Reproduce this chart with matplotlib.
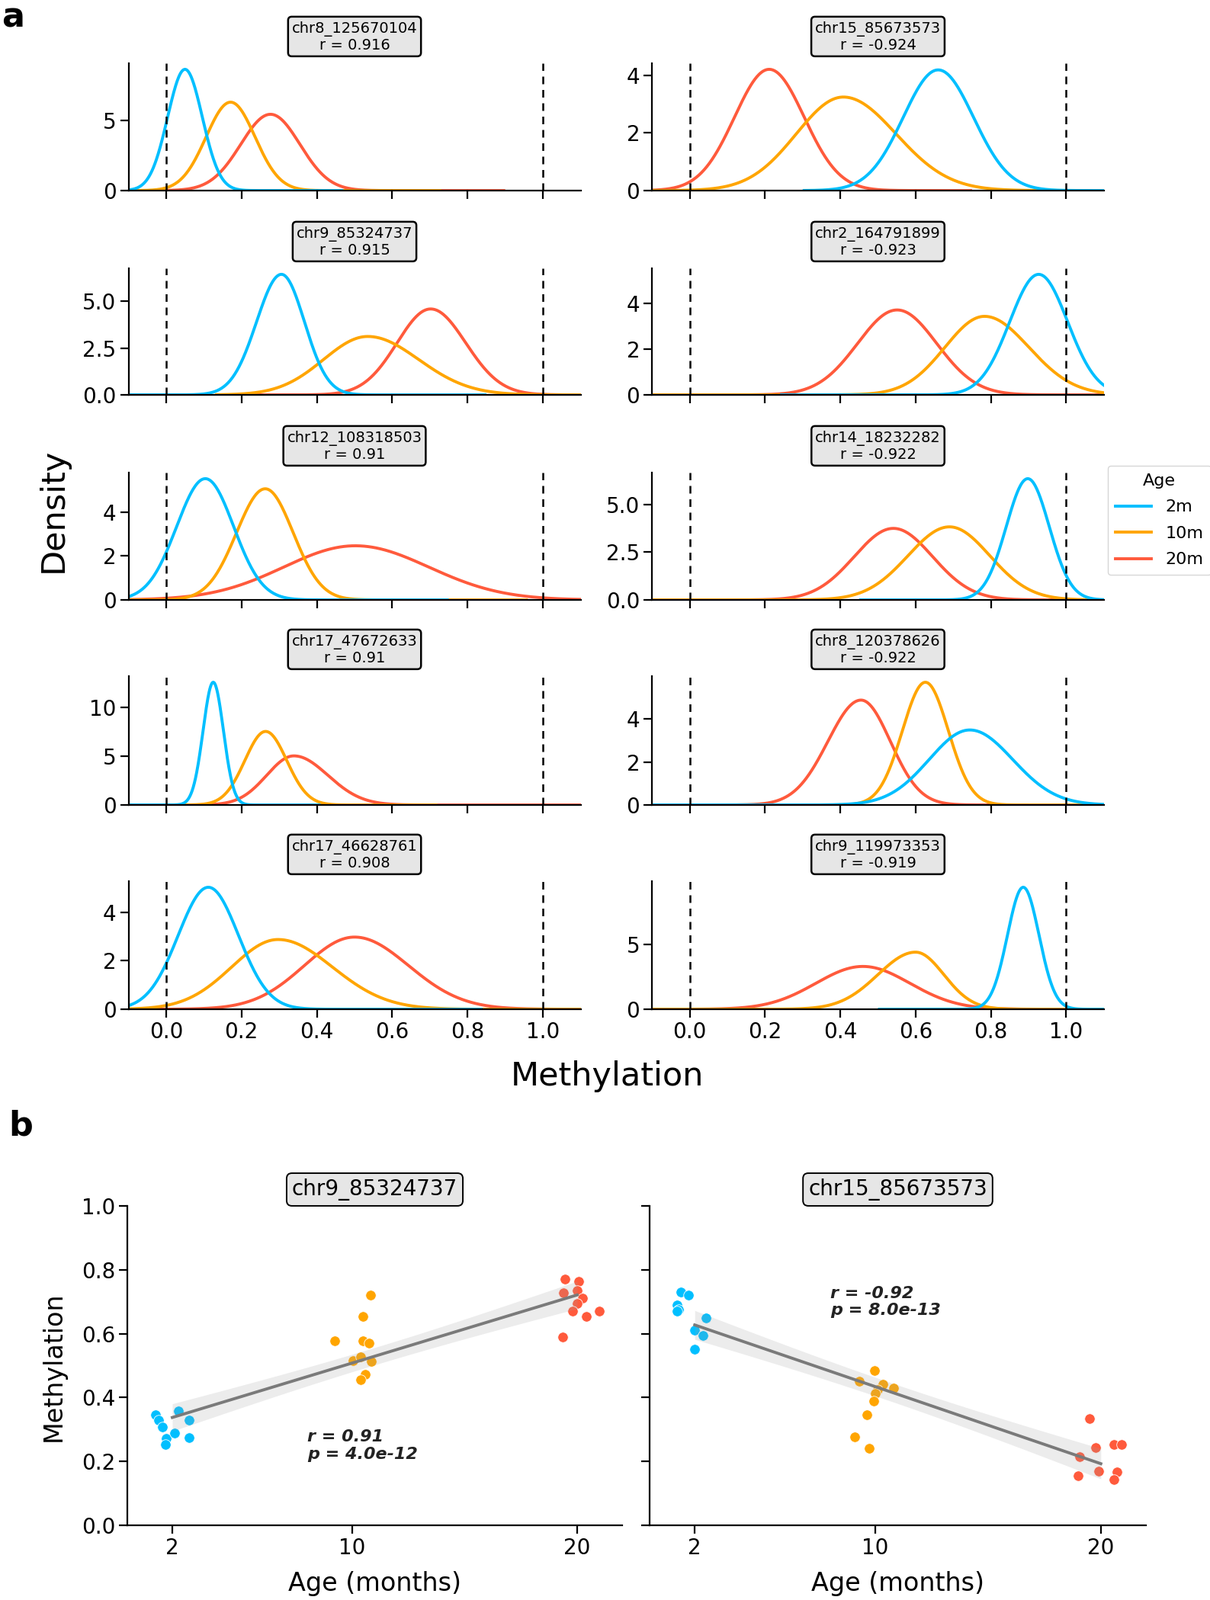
import numpy as np
import matplotlib
matplotlib.use("Agg")
import matplotlib.pyplot as plt
from matplotlib.lines import Line2D

# ---------------- colours ----------------
C2, C10, C20 = "#00BFFF", "#FFA500", "#FF5A3C"
AGE_LABELS = ["2m", "10m", "20m"]

# ---------------- panel a : density curves ----------------
# order: left column rows 1-5, then right column rows 1-5
probe_names = ["chr8_125670104", "chr9_85324737", "chr12_108318503", "chr17_47672633", "chr17_46628761",
               "chr15_85673573", "chr2_164791899", "chr14_18232282", "chr8_120378626", "chr9_119973353"]
probe_r = ["0.916", "0.915", "0.91", "0.91", "0.908",
           "-0.924", "-0.923", "-0.922", "-0.922", "-0.919"]
density_yticks = [[0, 5], [0, 2.5, 5.0], [0, 2, 4], [0, 5, 10], [0, 2, 4],
                  [0, 2, 4], [0, 2, 4], [0, 2.5, 5.0], [0, 2, 4], [0, 5]]

# curve shape: peak position, peak height, left/right width, support start/end
peak_2m = [0.050, 0.306, 0.104, 0.125, 0.112, 0.660, 0.927, 0.898, 0.744, 0.886]
height_2m = [8.60, 6.44, 5.51, 12.6, 5.02, 4.18, 5.28, 6.34, 3.49, 9.40]
wl_2m = [0.046, 0.066, 0.076, 0.027, 0.080, 0.093, 0.077, 0.057, 0.108, 0.042]
wr_2m = [0.046, 0.061, 0.075, 0.027, 0.080, 0.094, 0.077, 0.057, 0.114, 0.042]
lo_2m = [-0.3, -0.3, -0.3, -0.2, -0.3, 0.30, 0.24, 0.45, -0.3, 0.50]
hi_2m = [0.47, 0.85, 0.75, 0.41, 0.84, 1.30, 1.40, 1.30, 1.40, 1.20]

peak_10m = [0.171, 0.535, 0.263, 0.264, 0.297, 0.408, 0.783, 0.690, 0.626, 0.600]
height_10m = [6.27, 3.12, 5.05, 7.55, 2.87, 3.24, 3.44, 3.82, 5.71, 4.40]
wl_10m = [0.065, 0.117, 0.076, 0.055, 0.123, 0.125, 0.105, 0.110, 0.061, 0.100]
wr_10m = [0.065, 0.135, 0.074, 0.056, 0.144, 0.140, 0.118, 0.107, 0.061, 0.075]
lo_10m = [-0.2, 0.13, -0.1, -0.1, -0.3, -0.3, -0.3, -0.3, 0.20, -0.3]
hi_10m = [0.73, 1.30, 0.96, 0.72, 1.30, 1.00, 1.40, 1.30, 1.05, 1.10]

peak_20m = [0.277, 0.702, 0.502, 0.339, 0.500, 0.211, 0.551, 0.541, 0.455, 0.460]
height_20m = [5.41, 4.59, 2.46, 5.04, 2.97, 4.20, 3.72, 3.74, 4.88, 3.30]
wl_20m = [0.079, 0.089, 0.190, 0.072, 0.133, 0.092, 0.105, 0.104, 0.088, 0.125]
wr_20m = [0.078, 0.093, 0.195, 0.090, 0.143, 0.093, 0.105, 0.104, 0.078, 0.125]
lo_20m = [-0.05, 0.20, -0.3, -0.1, -0.1, -0.3, -0.1, 0.0, 0.0, 0.0]
hi_20m = [0.90, 1.05, 1.30, 1.20, 1.30, 0.75, 1.40, 1.00, 0.90, 1.00]

# ---------------- panel b : scatter data ----------------
b_titles = ["chr9_85324737", "chr15_85673573"]
b_stats = ["r = 0.91\np = 4.0e-12", "r = -0.92\np = 8.0e-13"]
ages = [2, 10, 20]

left_2m_x = [1.25, 1.38, 1.57, 1.73, 1.68, 2.11, 2.28, 2.73, 2.75]
left_2m_y = [0.346, 0.329, 0.309, 0.271, 0.252, 0.288, 0.359, 0.329, 0.274]
left_10m_x = [9.21, 10.83, 10.49, 10.47, 10.74, 10.03, 10.37, 10.86, 10.56, 10.38]
left_10m_y = [0.577, 0.721, 0.655, 0.578, 0.571, 0.516, 0.527, 0.514, 0.473, 0.456]
left_20m_x = [19.46, 20.08, 19.39, 20.01, 20.24, 20.01, 19.80, 20.42, 20.99, 19.34]
left_20m_y = [0.770, 0.763, 0.729, 0.734, 0.711, 0.695, 0.671, 0.655, 0.670, 0.589]

right_2m_x = [1.37, 1.73, 1.23, 1.30, 1.22, 2.50, 2.00, 2.35, 1.98]
right_2m_y = [0.731, 0.720, 0.690, 0.675, 0.670, 0.650, 0.612, 0.594, 0.551]
right_10m_x = [9.97, 9.30, 10.35, 10.82, 10.09, 9.99, 9.95, 9.64, 9.10, 9.72]
right_10m_y = [0.485, 0.450, 0.441, 0.429, 0.426, 0.412, 0.390, 0.345, 0.278, 0.241]
right_20m_x = [19.50, 20.57, 20.92, 19.77, 19.05, 19.89, 20.72, 18.99, 20.59]
right_20m_y = [0.335, 0.253, 0.253, 0.243, 0.215, 0.169, 0.167, 0.155, 0.144]

# ---------------- figure ----------------
W, H = 1587, 2099
plt.rcParams["font.family"] = ["DejaVu Sans"]
fig = plt.figure(figsize=(W / 100, H / 100), dpi=100)


def ax_at(x0, y0, x1, y1):
    return fig.add_axes([x0 / W, 1 - y1 / H, (x1 - x0) / W, (y1 - y0) / H])


def style_axes(ax, labelsize):
    for s in ["top", "right"]:
        ax.spines[s].set_visible(False)
    for s in ["left", "bottom"]:
        ax.spines[s].set_linewidth(1.6)
    ax.tick_params(labelsize=labelsize, length=8, width=1.6)


def split_curve(x, m, h, wl, wr):
    w = np.where(x < m, wl, wr)
    return h * np.exp(-0.5 * ((x - m) / w) ** 2)


col_x = [(168.5, 761.5), (855.3, 1447.7)]
row_y = [(83, 250), (352, 518), (620, 787), (887, 1056), (1156, 1324)]

groups = [
    (peak_20m, height_20m, wl_20m, wr_20m, lo_20m, hi_20m, C20),
    (peak_10m, height_10m, wl_10m, wr_10m, lo_10m, hi_10m, C10),
    (peak_2m, height_2m, wl_2m, wr_2m, lo_2m, hi_2m, C2),
]

for i in range(10):
    col, row = divmod(i, 5)
    x0, x1 = col_x[col]
    y0, y1 = row_y[row]
    ax = ax_at(x0, y0, x1, y1)
    style_axes(ax, 20)
    top = 0
    for pk, ht, wl, wr, lo, hi, c in groups:
        xs = np.linspace(lo[i], hi[i], 600)
        ys = split_curve(xs, pk[i], ht[i], wl[i], wr[i])
        ax.plot(xs, ys, color=c, lw=2.8, solid_capstyle="butt")
        top = max(top, ys.max())
    ax.axvline(0, color="black", ls=(0, (4, 3)), lw=1.8)
    ax.axvline(1, color="black", ls=(0, (4, 3)), lw=1.8)
    ax.set_xlim(-0.1, 1.1)
    ax.set_ylim(0, top * 1.05)
    ax.set_yticks(density_yticks[i])
    ax.set_xticks([0, 0.2, 0.4, 0.6, 0.8, 1.0])
    if row == 4:
        ax.set_xticklabels(["0.0", "0.2", "0.4", "0.6", "0.8", "1.0"])
    else:
        ax.set_xticklabels([])
    ax.annotate(f"{probe_names[i]}\nr = {probe_r[i]}", xy=(0.5, 1.0), xycoords="axes fraction",
                xytext=(0, 14), textcoords="offset pixels", ha="center", va="bottom",
                fontsize=14, multialignment="center", linespacing=1.15,
                bbox=dict(boxstyle="round,pad=0.25", fc="#e6e6e6", ec="black", lw=1.8))

fig.text(70 / W, 1 - 669 / H, "Density", rotation=90, fontsize=31, ha="center", va="center")
fig.text(796 / W, 1 - 1412 / H, "Methylation", fontsize=31, ha="center", va="center")

handles = [Line2D([], [], color=c, lw=2.8) for c in (C2, C10, C20)]
fig.legend(handles, AGE_LABELS, title="Age", loc="upper left",
           bbox_to_anchor=(1453 / W, 1 - 611 / H), fontsize=16, title_fontsize=16,
           frameon=True, borderaxespad=0, handlelength=2.1, labelspacing=0.65,
           borderpad=0.45, handletextpad=0.85)

fig.text(2 / W, 1 - 35 / H, "a", fontsize=32, fontweight="bold", ha="left", va="baseline")
fig.text(11 / W, 1 - 1490 / H, "b", fontsize=32, fontweight="bold", ha="left", va="baseline")

# ---------------- panel b ----------------
b_cols = [(167, 816), (852, 1503)]
b_sets = [
    [(left_2m_x, left_2m_y), (left_10m_x, left_10m_y), (left_20m_x, left_20m_y)],
    [(right_2m_x, right_2m_y), (right_10m_x, right_10m_y), (right_20m_x, right_20m_y)],
]
stat_pos = [(8.0, 0.30), (8.0, 0.75)]

for j in range(2):
    x0, x1 = b_cols[j]
    ax = ax_at(x0, 1582, x1, 2001)
    style_axes(ax, 20)
    ax_all, y_all = [], []
    for (xs, ys), c, a in zip(b_sets[j], (C2, C10, C20), ages):
        ax.scatter(xs, ys, s=95, color=c, edgecolor="white", linewidth=0.6, zorder=2)
        ax_all += [a] * len(ys)
        y_all += list(ys)
    xa = np.array(ax_all, float)
    ya = np.array(y_all, float)
    slope, icpt = np.polyfit(xa, ya, 1)
    xg = np.linspace(xa.min(), xa.max(), 100)
    yg = icpt + slope * xg
    resid = ya - (icpt + slope * xa)
    n = len(xa)
    s_err = np.sqrt(np.sum(resid ** 2) / (n - 2))
    se = s_err * np.sqrt(1 / n + (xg - xa.mean()) ** 2 / np.sum((xa - xa.mean()) ** 2))
    ax.fill_between(xg, yg - 2.05 * se, yg + 2.05 * se, color="#a0a0a0", alpha=0.2, lw=0, zorder=3)
    ax.plot(xg, yg, color="#7a7a7a", lw=2.8, zorder=4)
    ax.set_xlim(0, 22)
    ax.set_ylim(0, 1.0)
    ax.set_xticks(ages)
    ax.set_yticks([0, 0.2, 0.4, 0.6, 0.8, 1.0])
    if j == 0:
        ax.set_yticklabels(["0.0", "0.2", "0.4", "0.6", "0.8", "1.0"])
    else:
        ax.set_yticklabels([])
    ax.text(stat_pos[j][0], stat_pos[j][1], b_stats[j], fontsize=16, fontweight="bold",
            fontstyle="italic", color="#222222", ha="left", va="top", linespacing=1.15, zorder=5)
    ax.annotate(b_titles[j], xy=(0.5, 1.0), xycoords="axes fraction", xytext=(0, 7),
                textcoords="offset pixels", ha="center", va="bottom", fontsize=20,
                bbox=dict(boxstyle="round,pad=0.25", fc="#e6e6e6", ec="black", lw=1.4))
    fig.text(((x0 + x1) / 2) / W, 1 - 2077 / H, "Age (months)", fontsize=24, ha="center", va="center")

fig.text(70 / W, 1 - 1793 / H, "Methylation", rotation=90, fontsize=24, ha="center", va="center")

fig.savefig("out.png", dpi=100)
